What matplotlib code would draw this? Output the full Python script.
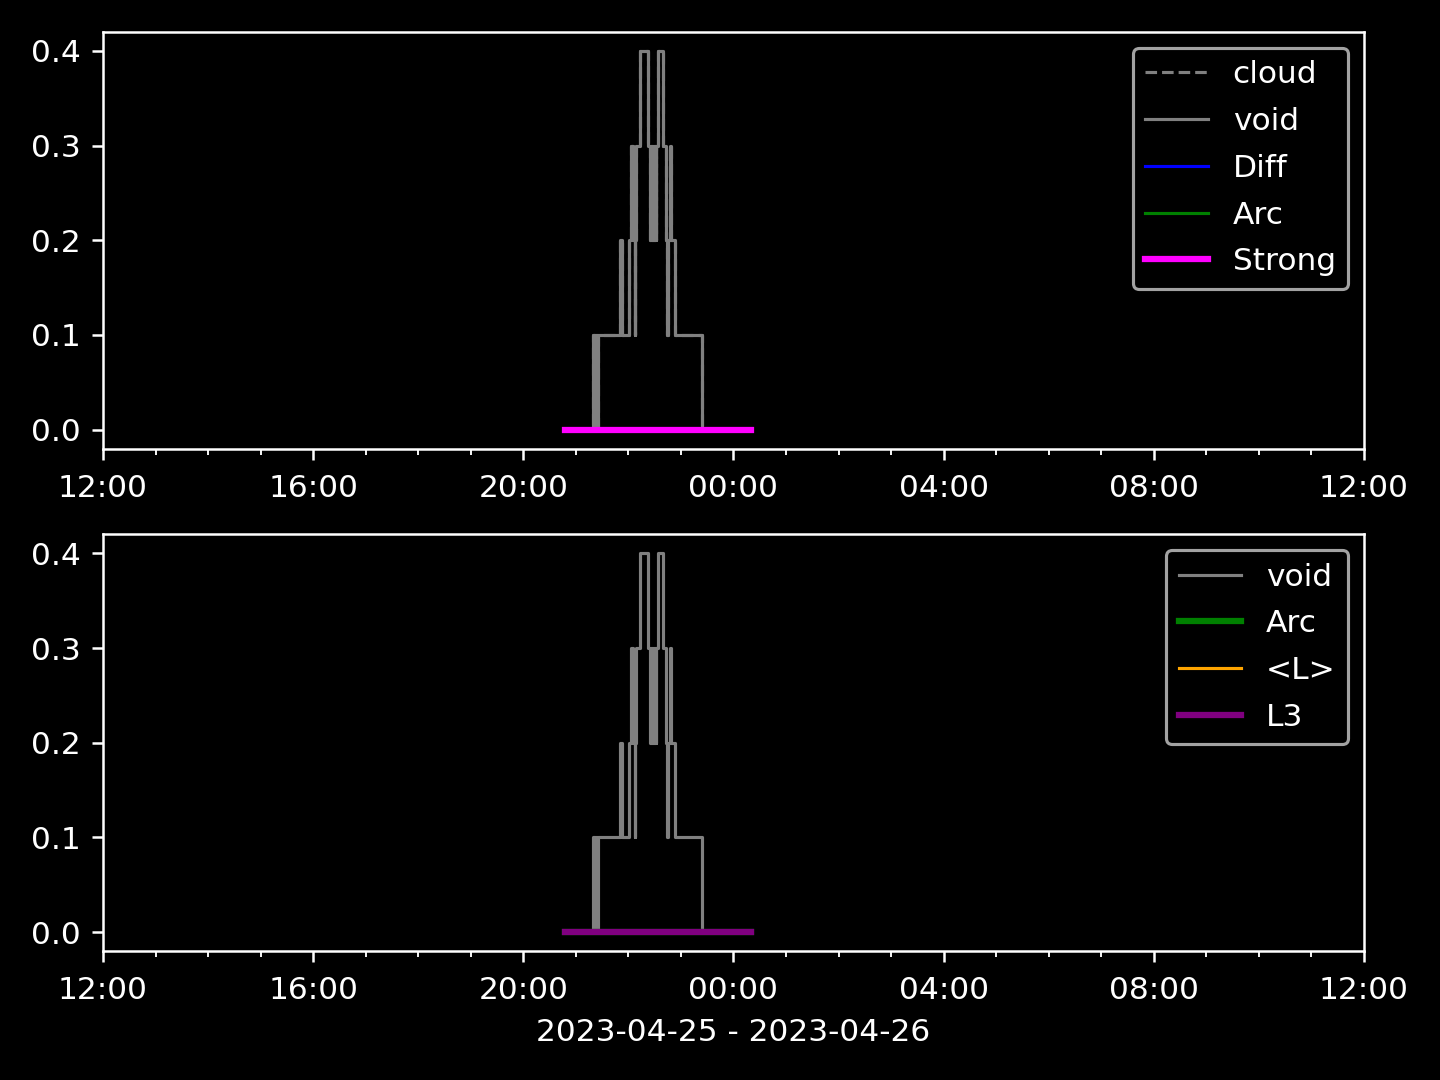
import matplotlib
matplotlib.use("Agg")
import matplotlib.pyplot as plt
import matplotlib.dates as mdates
import pandas as pd

plt.style.use('dark_background')

# change points of the void / cloud step series (value holds until next time)
change_times = ["2023-04-25 20:48", "2023-04-25 21:20", "2023-04-25 21:22", "2023-04-25 21:23",
                "2023-04-25 21:24", "2023-04-25 21:25", "2023-04-25 21:50", "2023-04-25 21:53",
                "2023-04-25 22:01", "2023-04-25 22:03", "2023-04-25 22:05", "2023-04-25 22:07",
                "2023-04-25 22:08", "2023-04-25 22:09", "2023-04-25 22:13", "2023-04-25 22:22",
                "2023-04-25 22:25", "2023-04-25 22:26", "2023-04-25 22:27", "2023-04-25 22:28",
                "2023-04-25 22:29", "2023-04-25 22:30", "2023-04-25 22:31", "2023-04-25 22:32",
                "2023-04-25 22:34", "2023-04-25 22:39", "2023-04-25 22:43", "2023-04-25 22:44",
                "2023-04-25 22:45", "2023-04-25 22:47", "2023-04-25 22:49", "2023-04-25 22:53",
                "2023-04-25 23:24", "2023-04-26 00:20"]
void_vals = [0.0, 0.1, 0.0, 0.1,
             0.0, 0.1, 0.2, 0.1,
             0.2, 0.3, 0.2, 0.1,
             0.2, 0.3, 0.4, 0.3,
             0.2, 0.3, 0.2, 0.3,
             0.2, 0.3, 0.2, 0.3,
             0.4, 0.3, 0.2, 0.1,
             0.2, 0.3, 0.2, 0.1,
             0.0, 0.0]
cloud_vals = list(void_vals)
zero_vals = [0.0] * len(void_vals)  # Diff, Arc, Strong, <L>, L3

t = pd.to_datetime(change_times)
xmin = pd.Timestamp("2023-04-25 12:00")
xmax = pd.Timestamp("2023-04-26 12:00")

fig, (ax1, ax2) = plt.subplots(2, 1, figsize=(6.4, 4.8), dpi=225)
fig.subplots_adjust(left=0.0715, right=0.9472, top=0.9704, bottom=0.1194, hspace=0.206)

ax1.plot(t, cloud_vals, '--', color='gray', lw=1, drawstyle='steps-post', label='cloud')
ax1.plot(t, void_vals, color='gray', lw=1, drawstyle='steps-post', label='void')
ax1.plot(t, zero_vals, color='blue', lw=1, drawstyle='steps-post', label='Diff')
ax1.plot(t, zero_vals, color='green', lw=1, drawstyle='steps-post', label='Arc')
ax1.plot(t, zero_vals, color='magenta', lw=2, drawstyle='steps-post', label='Strong')

ax2.plot(t, void_vals, color='gray', lw=1, drawstyle='steps-post', label='void')
ax2.plot(t, zero_vals, color='green', lw=2, drawstyle='steps-post', label='Arc')
ax2.plot(t, zero_vals, color='orange', lw=1, drawstyle='steps-post', label='<L>')
ax2.plot(t, zero_vals, color='purple', lw=2, drawstyle='steps-post', label='L3')

for ax in (ax1, ax2):
    ax.set_xlim(xmin, xmax)
    ax.set_yticks([0.0, 0.1, 0.2, 0.3, 0.4])
    ax.xaxis.set_major_locator(mdates.HourLocator(byhour=range(0, 24, 4)))
    ax.xaxis.set_minor_locator(mdates.HourLocator())
    ax.xaxis.set_major_formatter(mdates.DateFormatter('%H:%M'))
    ax.tick_params(axis='x', which='major', pad=4.5)
    ax.legend(loc='upper right', labelspacing=0.57)

ax2.set_xlabel("2023-04-25 - 2023-04-26")
fig.savefig("out.png")
